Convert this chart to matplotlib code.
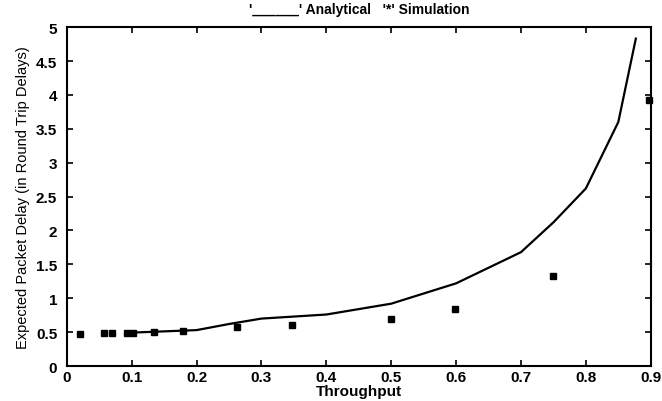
import matplotlib
matplotlib.use("Agg")
import matplotlib.pyplot as plt

# Analytical curve
ana_x = [0.092, 0.2, 0.25, 0.3, 0.4, 0.5, 0.6, 0.7, 0.75, 0.8, 0.85, 0.877]
ana_y = [0.49, 0.53, 0.62, 0.70, 0.76, 0.92, 1.22, 1.68, 2.12, 2.62, 3.6, 4.83]

# Simulation points
sim_x = [0.02, 0.058, 0.069, 0.092, 0.102, 0.134, 0.179, 0.263, 0.347, 0.50, 0.598, 0.75, 0.897]
sim_y = [0.47, 0.48, 0.48, 0.49, 0.49, 0.50, 0.52, 0.57, 0.61, 0.70, 0.84, 1.33, 3.93]

xticks = [0, 0.1, 0.2, 0.3, 0.4, 0.5, 0.6, 0.7, 0.8, 0.9]
xticklabels = ["0", "0.1", "0.2", "0.3", "0.4", "0.5", "0.6", "0.7", "0.8", "0.9"]
yticks = [0, 0.5, 1, 1.5, 2, 2.5, 3, 3.5, 4, 4.5, 5]
yticklabels = ["0", "0.5", "1", "1.5", "2", "2.5", "3", "3.5", "4", "4.5", "5"]

plt.rcParams['font.family'] = ['Liberation Sans', 'DejaVu Sans']
fig = plt.figure(figsize=(6.62, 4.02), dpi=100)
ax = fig.add_axes([0.101, 0.087, 0.882, 0.843])

ax.plot(ana_x, ana_y, color='black', lw=1.6)
ax.plot(sim_x, sim_y, linestyle='none', marker='s', ms=5, color='black', clip_on=False)

ax.set_xlim(0, 0.9)
ax.set_ylim(0, 5)
ax.set_xticks(xticks)
ax.set_xticklabels(xticklabels, fontsize=11, fontweight='bold')
ax.set_yticks(yticks)
ax.set_yticklabels(yticklabels, fontsize=11, fontweight='bold')
ax.tick_params(direction='in', length=4, top=True, right=True, width=1.2)
ax.tick_params(axis='x', pad=3)
ax.tick_params(axis='y', pad=7)
for s in ax.spines.values():
    s.set_linewidth(1.5)

ax.set_xlabel("Throughput", fontsize=11, fontweight='bold', labelpad=0)
ax.set_ylabel("Expected Packet Delay (in Round Trip Delays)", fontsize=10.5, labelpad=4)
ax.set_title("'______' Analytical   '*' Simulation", fontsize=10, fontweight='bold', pad=10)

fig.savefig("out.png", dpi=100)
